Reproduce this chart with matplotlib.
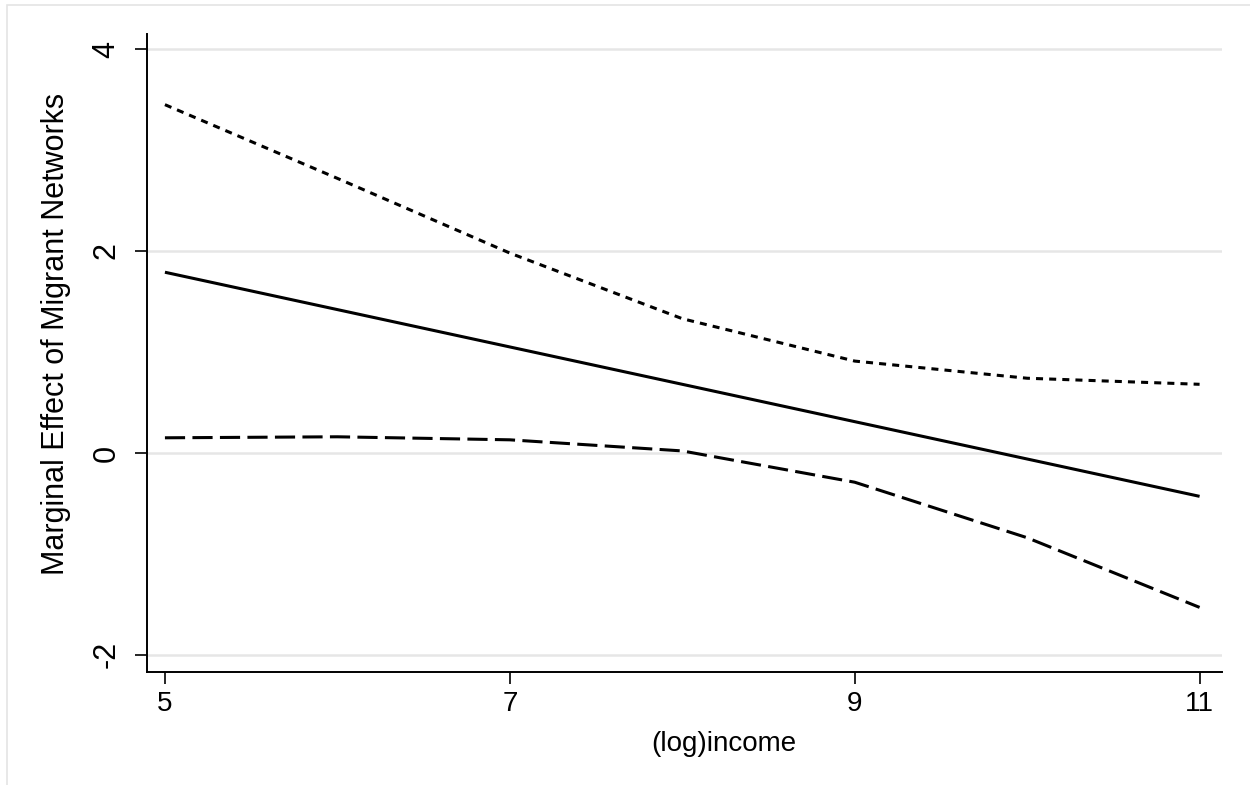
import matplotlib
matplotlib.use("Agg")
import matplotlib.pyplot as plt
from matplotlib.patches import Rectangle

plt.rcParams['font.family'] = ['Liberation Sans', 'DejaVu Sans']

# (log)income grid and the marginal effect with its bounds
income = [5, 6, 7, 8, 9, 10, 11]
effect = [1.79, 1.42, 1.05, 0.68, 0.31, -0.06, -0.43]
upper = [3.45, 2.72, 1.98, 1.33, 0.91, 0.74, 0.68]
lower = [0.15, 0.16, 0.13, 0.02, -0.29, -0.84, -1.53]

xticks = [5, 7, 9, 11]
yticks = [-2, 0, 2, 4]

fig = plt.figure(figsize=(12.5, 7.85), dpi=100)
ax = fig.add_axes([147/1250, 1 - 672/785, 1075/1250, 638/785])

# stata-ish outer frame
fig.patches.append(Rectangle((7/1250, -0.1), 1.2, 1.1 - 5/785, transform=fig.transFigure,
                             fill=False, edgecolor='#e4e4e4', linewidth=1.2))

ax.plot(income, effect, color='black', lw=2.2, solid_capstyle='butt')
ax.plot(income, upper, color='black', lw=2.2, dashes=(2.3, 2.0))
ax.plot(income, lower, color='black', lw=2.2, dashes=(6.6, 2.4))

ax.set_xlim(4.896, 11.13)
ax.set_ylim(-2.17, 4.15)
ax.set_xticks(xticks)
ax.set_yticks(yticks)
ax.set_yticklabels([str(t) for t in yticks], rotation=90, va='center')

ax.grid(axis='y', color='#e6e6e6', linewidth=1.8)
ax.set_axisbelow(True)

for s in ['top', 'right']:
    ax.spines[s].set_visible(False)
for s in ['left', 'bottom']:
    ax.spines[s].set_linewidth(1.4)

ax.tick_params(axis='both', length=8.5, width=1.2, direction='out')
ax.tick_params(axis='x', pad=5, labelsize=20)
ax.tick_params(axis='y', pad=10, labelsize=22)

ax.set_xlabel('(log)income', fontsize=20)
ax.set_ylabel('Marginal Effect of Migrant Networks', fontsize=22)
ax.xaxis.set_label_coords(0.537, -0.0925)
ax.yaxis.set_label_coords(-0.0707, 0.5306)

fig.savefig('out.png', dpi=100)
